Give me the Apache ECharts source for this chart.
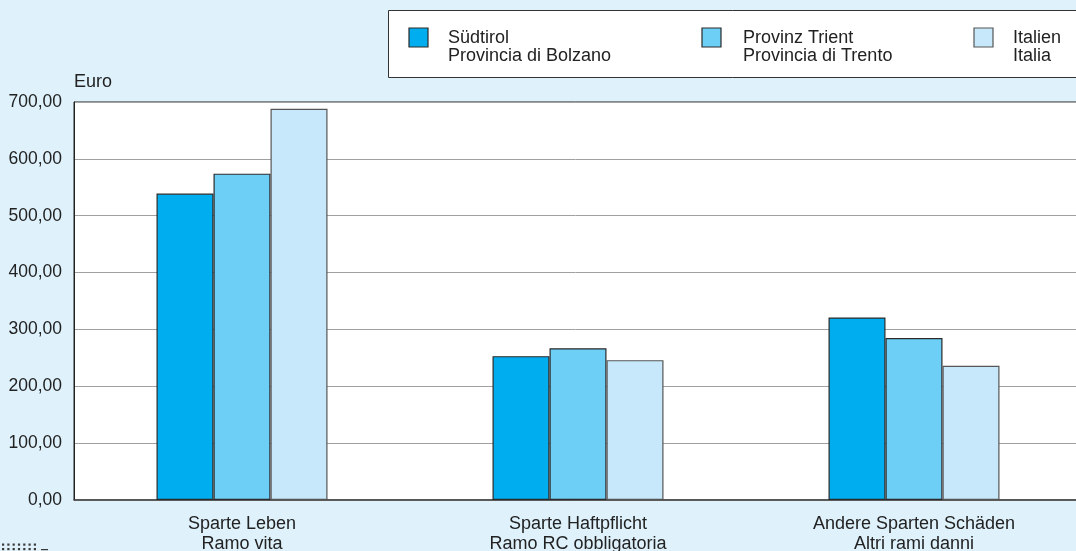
<!DOCTYPE html>
<html><head><meta charset="utf-8">
<script src="https://cdn.jsdelivr.net/npm/echarts@6/dist/echarts.min.js"></script>
<style>html,body{margin:0;padding:0;background:#dff2fc;}#c{width:1076px;height:551px;}</style>
</head><body><div id="c"></div>
<script>
const categories = ["Sparte Leben\nRamo vita", "Sparte Haftpflicht\nRamo RC obbligatoria", "Andere Sparten Schäden\nAltri rami danni"];
const seriesNames = ["Südtirol\nProvincia di Bolzano", "Provinz Trient\nProvincia di Trento", "Italien\nItalia"];
const suedtirol = [539, 253, 321];
const trient = [574, 267, 285];
const italien = [688, 246, 236];
const yTicks = [0, 100, 200, 300, 400, 500, 600, 700];

const colors = ['#00aeef', '#6dcff6', '#c6e8fa'];
const borders = ['#2a2a2a', '#2a2a2a', '#555555'];
const values = [suedtirol, trient, italien];
const legendIconX = [409, 702, 974];
const legendTextX = [448, 743, 1013];

const chart = echarts.init(document.getElementById('c'), null, {renderer: 'canvas'});
const font = 'Liberation Sans, Arial, sans-serif';

const graphics = [{
  type: 'rect', left: 388, top: 10, z: 0,
  shape: {width: 700, height: 67},
  style: {fill: '#ffffff', stroke: '#333', lineWidth: 1}
}];
// decorative dotted fragment at bottom-left edge
for (let r = 0; r < 2; r++) {
  for (let k = 0; k < 7; k++) {
    graphics.push({type: 'rect', z: 5, shape: {x: 2 + k * 5.3, y: 543.5 + r * 4.5, width: 2.2, height: 2.2}, style: {fill: '#3a3a3a'}});
  }
}
graphics.push({type: 'rect', z: 5, shape: {x: 41, y: 549, width: 7, height: 1.2}, style: {fill: '#3a3a3a'}});

seriesNames.forEach((n, i) => {
  graphics.push({
    type: 'rect', z: 5, shape: {x: legendIconX[i], y: 28, width: 19, height: 19},
    style: {fill: colors[i], stroke: borders[i], lineWidth: 1.2}
  });
  graphics.push({
    type: 'text', z: 5, x: legendTextX[i], y: 28.5,
    style: {text: n, fontSize: 18, lineHeight: 18.5, fill: '#222', fontFamily: font, verticalAlign: 'top', align: 'left'}
  });
});

chart.setOption({
  backgroundColor: '#dff2fc',
  animation: false,
  textStyle: {fontFamily: font},
  grid: {left: 74, top: 102, width: 1008, height: 398, show: true, backgroundColor: '#ffffff',
         borderColor: '#222', borderWidth: 1, containLabel: false, outerBoundsMode: 'none'},
  graphic: graphics,
  xAxis: {
    type: 'category', data: categories,
    axisTick: {show: false},
    axisLine: {lineStyle: {color: '#444', width: 1.5}},
    axisLabel: {fontSize: 18, color: '#222', lineHeight: 20, margin: 14, interval: 0, fontFamily: font}
  },
  yAxis: {
    type: 'value', min: yTicks[0], max: yTicks[yTicks.length - 1], interval: 100,
    name: 'Euro', nameLocation: 'end', nameGap: 20,
    nameTextStyle: {fontSize: 18, color: '#222', align: 'left', verticalAlign: 'middle', fontFamily: font},
    axisLine: {show: true, lineStyle: {color: '#222', width: 1}},
    axisTick: {show: false},
    splitLine: {lineStyle: {color: '#a0a0a0', width: 1}},
    axisLabel: {fontSize: 17.5, color: '#222', margin: 12, fontFamily: font,
      formatter: v => v.toFixed(2).replace('.', ',')}
  },
  series: seriesNames.map((n, i) => ({
    name: n, type: 'bar', data: values[i], barWidth: 57, barGap: '0%',
    itemStyle: {color: colors[i], borderColor: borders[i], borderWidth: 1.2}
  }))
});
</script></body></html>
